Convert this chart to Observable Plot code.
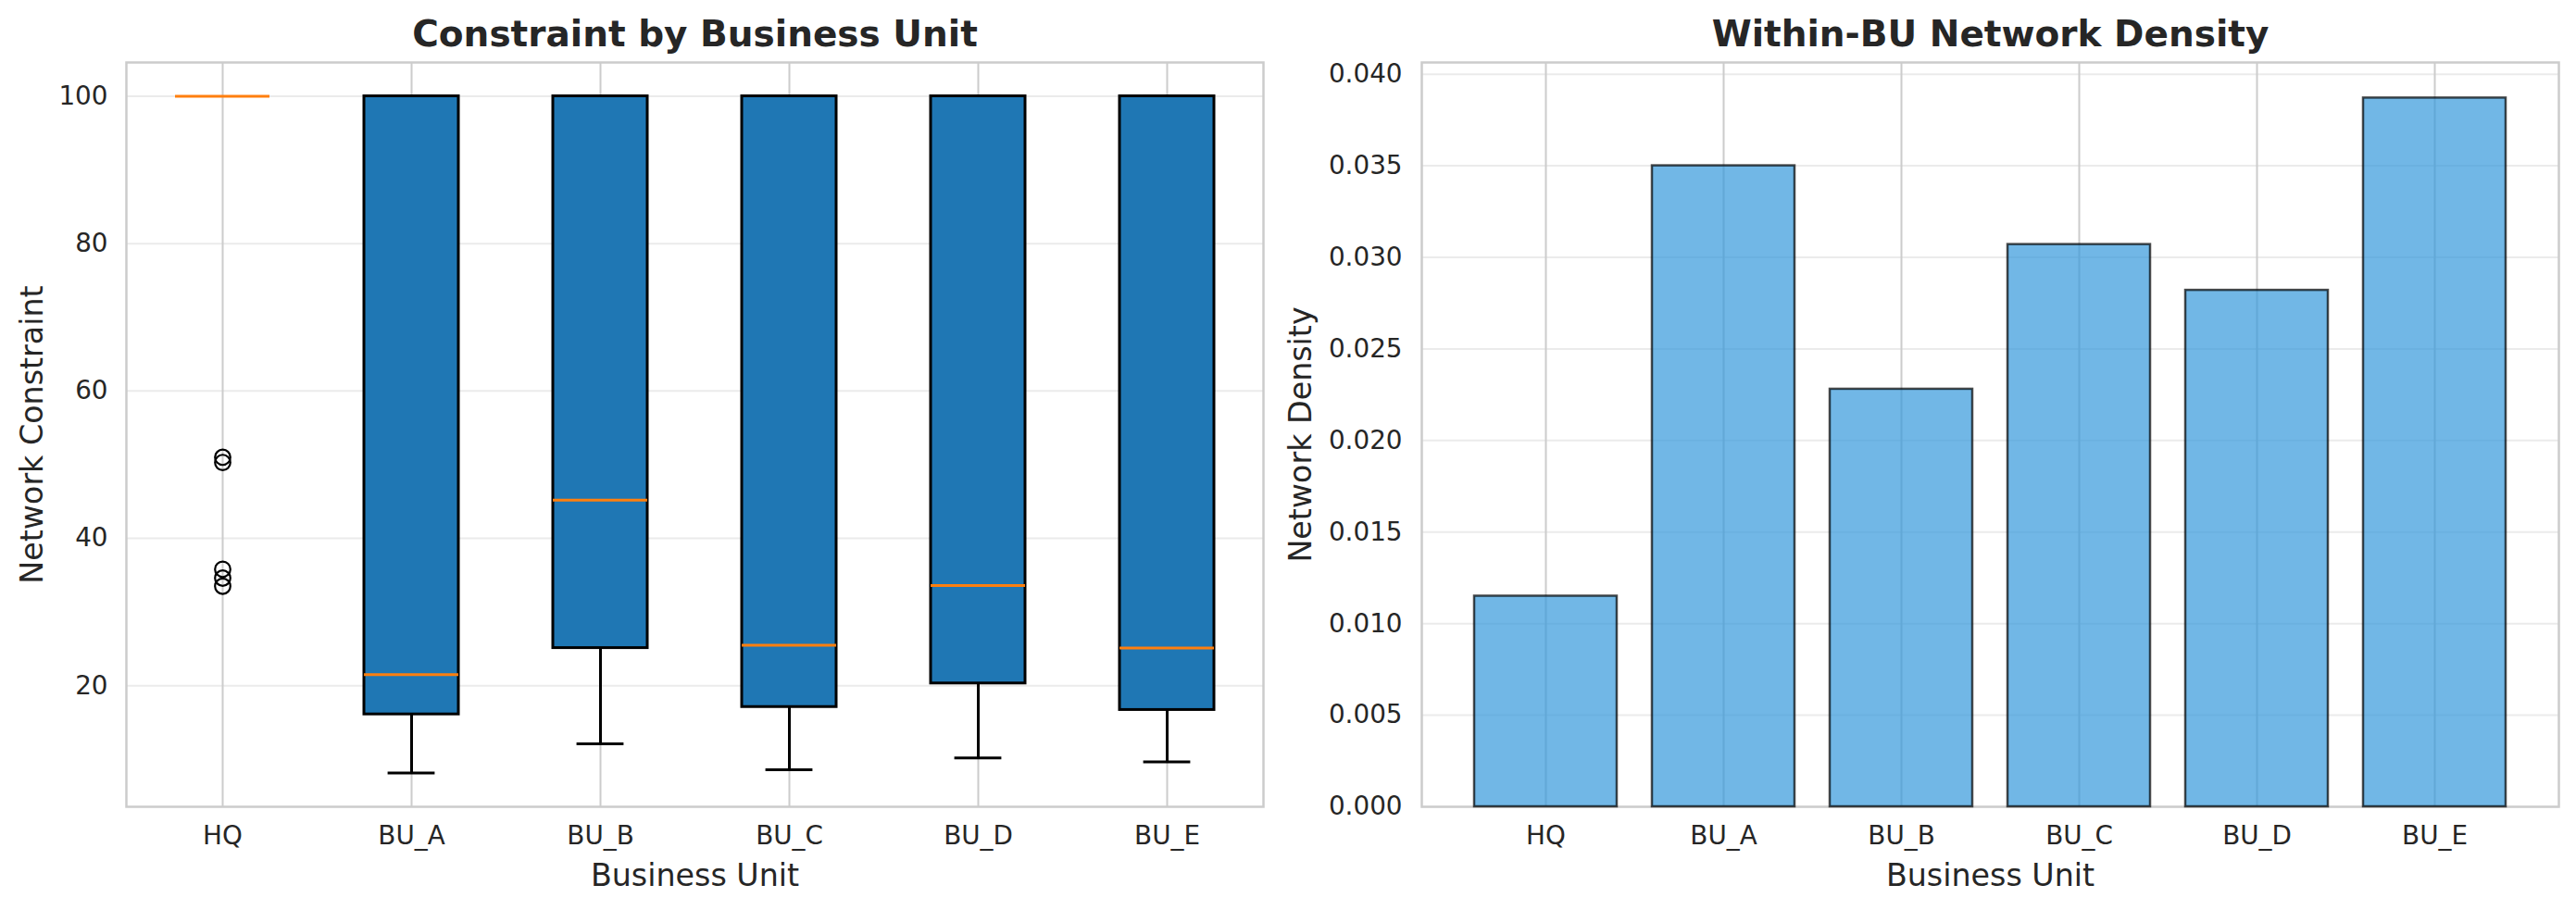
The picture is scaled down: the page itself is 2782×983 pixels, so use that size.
<!DOCTYPE html>
<html><head><meta charset="utf-8">
<script src="https://cdn.jsdelivr.net/npm/d3@7"></script>
<script src="https://cdn.jsdelivr.net/npm/@observablehq/plot@0.6"></script>
<style>
html,body{margin:0;padding:0;background:#fff;}
#wrap{display:flex;width:2782px;height:983px;overflow:hidden;}
#wrap svg{display:block;}
</style></head><body><div id="wrap"></div>
<script>
// ---- data ----
const units = ["HQ", "BU_A", "BU_B", "BU_C", "BU_D", "BU_E"];
const q1 = [100, 16.1, 25.1, 17.1, 20.3, 16.7];
const median = [100, 21.5, 45.2, 25.5, 33.6, 25.1];
const q3 = [100, 100, 100, 100, 100, 100];
const whiskerLow = [100, 8.15, 12.1, 8.6, 10.2, 9.65];
const whiskerHigh = [100, 100, 100, 100, 100, 100];
const outlierUnits = ["HQ", "HQ", "HQ", "HQ", "HQ"];
const outlierValues = [51.0, 50.3, 35.8, 34.6, 33.5];
const density = [0.0115, 0.0350, 0.0228, 0.0307, 0.0282, 0.0387];
const constraintTicks = [20, 40, 60, 80, 100];
const densityTicks = [0, 0.005, 0.010, 0.015, 0.020, 0.025, 0.030, 0.035, 0.040];

// ---- tables ----
const boxes = units.map((u, i) => ({unit: u, q1: q1[i], median: median[i], q3: q3[i], lo: whiskerLow[i], hi: whiskerHigh[i]}));
const outliers = outlierUnits.map((u, i) => ({unit: u, value: outlierValues[i]}));
const bars = units.map((u, i) => ({unit: u, density: density[i]}));

const TXT = "#262626";
const font = "DejaVu Sans";
const W = 1391, H = 983;

// ---- left: boxplot ----
const left = Plot.plot({
  width: W, height: H,
  marginLeft: 136, marginRight: 27, marginTop: 67, marginBottom: 112,
  style: {fontFamily: font, background: "white", color: TXT, overflow: "visible"},
  x: {type: "band", domain: units, paddingInner: 0.5, paddingOuter: 0.25},
  y: {domain: [3.56, 104.59]},
  marks: [
    Plot.gridY(constraintTicks, {stroke: "#ebebeb", strokeOpacity: 1, strokeWidth: 2}),
    Plot.ruleX(units, {x: d => d, stroke: "#cccccc", strokeWidth: 2}),
    Plot.frame({stroke: "#cccccc", strokeWidth: 2.5}),
    Plot.ruleX(boxes, {x: "unit", y1: "lo", y2: "q1", stroke: "black", strokeWidth: 3, filter: d => d.q1 > d.lo}),
    Plot.ruleX(boxes, {x: "unit", y1: "q3", y2: "hi", stroke: "black", strokeWidth: 3, filter: d => d.hi > d.q3}),
    Plot.tickY(boxes, {x: "unit", y: "lo", stroke: "black", strokeWidth: 3, insetLeft: 25.6, insetRight: 25.6, filter: d => d.q3 > d.q1}),
    Plot.tickY(boxes, {x: "unit", y: "hi", stroke: "black", strokeWidth: 3, insetLeft: 25.6, insetRight: 25.6, filter: d => d.q3 > d.q1}),
    Plot.barY(boxes, {x: "unit", y1: "q1", y2: "q3", fill: "#1f77b4", stroke: "black", strokeWidth: 3, filter: d => d.q3 > d.q1}),
    Plot.tickY(boxes, {x: "unit", y: "median", stroke: "#ff7f0e", strokeWidth: 3}),
    Plot.dot(outliers, {x: "unit", y: "value", r: 8.3, stroke: "black", strokeWidth: 2.2, fill: "none"}),
    Plot.axisY(constraintTicks, {tickSize: 0, tickPadding: 20, fontSize: 27.8, label: null}),
    Plot.axisX({tickSize: 0, tickPadding: 21, fontSize: 27.8, label: null}),
    Plot.text(["Constraint by Business Unit"], {text: d => d, frameAnchor: "top", textAnchor: "middle", lineAnchor: "middle", dy: -29.5, fontSize: 39, fontWeight: "bold", fill: TXT}),
    Plot.text(["Business Unit"], {text: d => d, frameAnchor: "bottom", textAnchor: "middle", lineAnchor: "middle", dy: 75, fontSize: 33.3, fill: TXT}),
    Plot.text(["Network Constraint"], {text: d => d, frameAnchor: "left", textAnchor: "middle", lineAnchor: "middle", dx: -101.6, rotate: -90, fontSize: 33.3, fill: TXT})
  ]
});

// ---- right: bar chart ----
const right = Plot.plot({
  width: W, height: H,
  marginLeft: 144, marginRight: 19, marginTop: 67, marginBottom: 112,
  style: {fontFamily: font, background: "white", color: TXT, overflow: "visible"},
  x: {type: "band", domain: units, paddingInner: 0.2, paddingOuter: 0.29},
  y: {domain: [0, 0.04064]},
  marks: [
    Plot.gridY(densityTicks, {stroke: "#ebebeb", strokeOpacity: 1, strokeWidth: 2}),
    Plot.ruleX(units, {x: d => d, stroke: "#cccccc", strokeWidth: 2}),
    Plot.frame({stroke: "#cccccc", strokeWidth: 2.5}),
    Plot.barY(bars, {x: "unit", y: "density", fill: "#3498db", fillOpacity: 0.7, stroke: "black", strokeOpacity: 0.7, strokeWidth: 2.5}),
    Plot.axisY(densityTicks, {tickSize: 0, tickPadding: 21, fontSize: 27.8, tickFormat: d3.format(".3f"), label: null}),
    Plot.axisX({tickSize: 0, tickPadding: 21, fontSize: 27.8, label: null}),
    Plot.text(["Within-BU Network Density"], {text: d => d, frameAnchor: "top", textAnchor: "middle", lineAnchor: "middle", dy: -29.5, fontSize: 39, fontWeight: "bold", fill: TXT}),
    Plot.text(["Business Unit"], {text: d => d, frameAnchor: "bottom", textAnchor: "middle", lineAnchor: "middle", dy: 75, fontSize: 33.3, fill: TXT}),
    Plot.text(["Network Density"], {text: d => d, frameAnchor: "left", textAnchor: "middle", lineAnchor: "middle", dx: -130, rotate: -90, fontSize: 33.3, fill: TXT})
  ]
});

const wrap = document.getElementById("wrap");
wrap.appendChild(left);
wrap.appendChild(right);
</script></body></html>
